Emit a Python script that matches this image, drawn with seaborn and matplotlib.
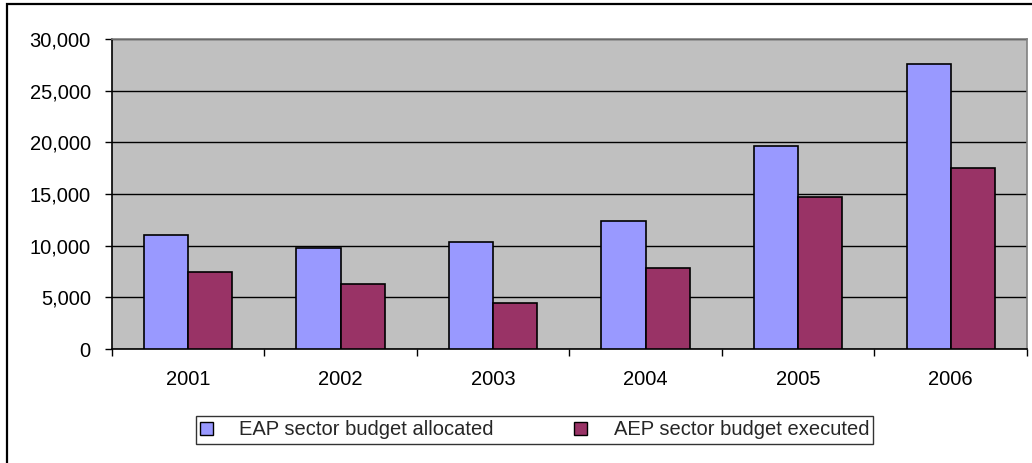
import matplotlib
matplotlib.use("Agg")
import matplotlib.pyplot as plt
import matplotlib.patches as mpatches
from matplotlib.ticker import FuncFormatter, FixedLocator
import numpy as np
import pandas as pd
import seaborn as sns

years = ["2001", "2002", "2003", "2004", "2005", "2006"]
allocated = [11000, 9750, 10400, 12350, 19650, 27600]
executed = [7450, 6300, 4500, 7800, 14750, 17550]
series_names = ["EAP sector budget allocated", "AEP sector budget executed"]
series_colors = ["#9999FF", "#993366"]
y_ticks = [0, 5000, 10000, 15000, 20000, 25000, 30000]

df = pd.DataFrame({
    "year": years * 2,
    "value": allocated + executed,
    "series": [series_names[0]] * len(years) + [series_names[1]] * len(years),
})

sns.set_theme(style="white")
plt.rcParams["font.family"] = ["Liberation Sans", "DejaVu Sans"]
FS = 14.5

fig = plt.figure(figsize=(10.32, 4.63), dpi=100)
ax = fig.add_axes([0.1082, 0.2462, 0.8870, 0.6696])
ax.set_facecolor("#C0C0C0")

sns.barplot(data=df, x="year", y="value", hue="series", order=years,
            hue_order=series_names, palette=series_colors, saturation=1,
            width=0.58, edgecolor="black", linewidth=1.2, ax=ax, legend=False,
            zorder=3)

ax.set_xlim(-0.5, len(years) - 0.5)
ax.set_ylim(y_ticks[0], y_ticks[-1])
ax.set_yticks(y_ticks)
ax.yaxis.set_major_formatter(FuncFormatter(lambda v, p: f"{int(v):,}"))
ax.grid(axis="y", color="black", linewidth=1.0, zorder=1)
ax.set_axisbelow(True)
ax.set_xlabel("")
ax.set_ylabel("")

# category boundaries get the x tick marks, labels sit in the middle
ax.xaxis.set_minor_locator(FixedLocator(np.arange(-0.5, len(years), 1.0)))
ax.tick_params(axis="x", which="major", length=0, pad=15, labelsize=FS, colors="black")
ax.tick_params(axis="x", which="minor", length=5, width=1, direction="out",
               color="black", bottom=True)
ax.tick_params(axis="y", which="major", length=5, width=1, direction="out",
               pad=10, labelsize=FS, colors="black", left=True)

for side in ["left", "bottom"]:
    ax.spines[side].set_color("black")
    ax.spines[side].set_linewidth(1.2)
for side in ["top", "right"]:
    ax.spines[side].set_color("#808080")
    ax.spines[side].set_linewidth(1.2)

# outer chart frame
fig.patches.append(mpatches.Rectangle((0.0068, -0.05), 1.2, 0.9924 + 0.05,
                                      transform=fig.transFigure, fill=False,
                                      edgecolor="black", linewidth=1.6))

handles = [mpatches.Patch(facecolor=c, edgecolor="black", linewidth=1.0, label=n)
           for c, n in zip(series_colors, series_names)]
leg = fig.legend(handles=handles, loc="center", bbox_to_anchor=(0.518, 0.0713),
                 ncol=2, frameon=True, fancybox=False, fontsize=FS,
                 handlelength=0.65, handleheight=0.65, handletextpad=1.3,
                 columnspacing=4.0, borderpad=0.2, borderaxespad=0)
leg.get_frame().set_edgecolor("black")
leg.get_frame().set_linewidth(1.0)

fig.savefig("out.png", dpi=100, facecolor="white")
